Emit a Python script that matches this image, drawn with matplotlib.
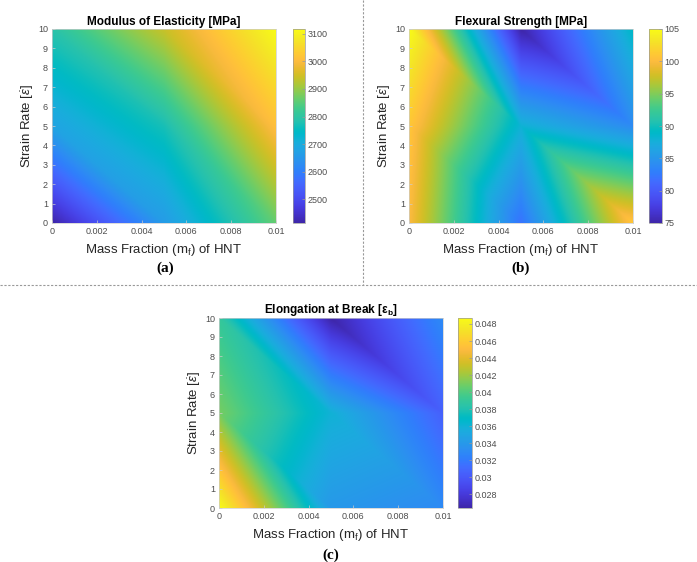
import numpy as np
import matplotlib
matplotlib.use('Agg')
import matplotlib.pyplot as plt
import matplotlib.tri as mtri
from matplotlib.colors import LinearSegmentedColormap
from matplotlib.lines import Line2D

plt.rcParams['font.family'] = ['Liberation Sans', 'DejaVu Sans']
plt.rcParams['mathtext.fontset'] = 'custom'
plt.rcParams['mathtext.rm'] = 'Liberation Sans'
plt.rcParams['mathtext.it'] = 'Liberation Sans:italic'
plt.rcParams['mathtext.bf'] = 'Liberation Sans:bold'

# grid of the measurements
mass_fraction = [0.0, 0.005, 0.01]
strain_rate = [0, 5, 10]

# values, one row per strain rate (0, 5, 10), columns = mass fraction
modulus = [[2413, 2660, 2860],
           [2680, 2770, 3010],
           [2790, 2940, 3118]]
flexural = [[100, 82, 101],
            [101, 88, 84],
            [105, 75, 89]]
elongation = [[0.0487, 0.0340, 0.0330],
              [0.0410, 0.0360, 0.0305],
              [0.0390, 0.0264, 0.0330]]

titles = ['Modulus of Elasticity [MPa]', 'Flexural Strength [MPa]',
          r'Elongation at Break [ε$_\mathbf{b}$]']
panel_tags = ['(a)', '(b)', '(c)']
xticks = [0, 0.002, 0.004, 0.006, 0.008, 0.01]
xtick_labels = ['0', '0.002', '0.004', '0.006', '0.008', '0.01']
yticks = list(range(0, 11))
cbar_ticks = [[2500, 2600, 2700, 2800, 2900, 3000, 3100],
              [75, 80, 85, 90, 95, 100, 105],
              [0.028, 0.03, 0.032, 0.034, 0.036, 0.038, 0.04, 0.042, 0.044, 0.046, 0.048]]
cbar_labels = [[str(t) for t in cbar_ticks[0]],
               [str(t) for t in cbar_ticks[1]],
               ['0.028', '0.03', '0.032', '0.034', '0.036', '0.038', '0.04', '0.042', '0.044', '0.046', '0.048']]
clims = [(2413, 3118), (75, 105), (0.0264, 0.0487)]

parula_rgb = [
    [0.2422, 0.1504, 0.6603], [0.2504, 0.1650, 0.7076], [0.2578, 0.1818, 0.7511], [0.2647, 0.1978, 0.7952],
    [0.2706, 0.2147, 0.8364], [0.2751, 0.2342, 0.8710], [0.2783, 0.2559, 0.8991], [0.2803, 0.2782, 0.9221],
    [0.2813, 0.3006, 0.9414], [0.2810, 0.3228, 0.9579], [0.2795, 0.3447, 0.9717], [0.2760, 0.3667, 0.9829],
    [0.2699, 0.3892, 0.9906], [0.2602, 0.4123, 0.9952], [0.2440, 0.4358, 0.9988], [0.2206, 0.4603, 0.9973],
    [0.1963, 0.4847, 0.9892], [0.1834, 0.5074, 0.9798], [0.1786, 0.5289, 0.9682], [0.1764, 0.5499, 0.9520],
    [0.1687, 0.5703, 0.9359], [0.1540, 0.5902, 0.9218], [0.1460, 0.6091, 0.9079], [0.1380, 0.6276, 0.8973],
    [0.1248, 0.6459, 0.8883], [0.1113, 0.6635, 0.8763], [0.0952, 0.6798, 0.8598], [0.0689, 0.6948, 0.8394],
    [0.0297, 0.7082, 0.8163], [0.0036, 0.7203, 0.7917], [0.0067, 0.7312, 0.7660], [0.0433, 0.7411, 0.7394],
    [0.0964, 0.7500, 0.7120], [0.1408, 0.7584, 0.6842], [0.1717, 0.7670, 0.6554], [0.1938, 0.7758, 0.6251],
    [0.2161, 0.7843, 0.5923], [0.2470, 0.7918, 0.5567], [0.2906, 0.7973, 0.5188], [0.3406, 0.8008, 0.4789],
    [0.3909, 0.8029, 0.4354], [0.4456, 0.8024, 0.3909], [0.5044, 0.7993, 0.3480], [0.5616, 0.7942, 0.3045],
    [0.6174, 0.7876, 0.2612], [0.6720, 0.7793, 0.2227], [0.7242, 0.7698, 0.1910], [0.7738, 0.7598, 0.1646],
    [0.8203, 0.7498, 0.1535], [0.8634, 0.7406, 0.1596], [0.9035, 0.7330, 0.1774], [0.9393, 0.7288, 0.2100],
    [0.9728, 0.7298, 0.2394], [0.9956, 0.7434, 0.2371], [0.9970, 0.7659, 0.2199], [0.9952, 0.7893, 0.2028],
    [0.9892, 0.8136, 0.1885], [0.9786, 0.8386, 0.1766], [0.9676, 0.8639, 0.1643], [0.9610, 0.8890, 0.1537],
    [0.9597, 0.9135, 0.1423], [0.9628, 0.9373, 0.1265], [0.9691, 0.9606, 0.1064], [0.9769, 0.9839, 0.0805]]
parula = LinearSegmentedColormap.from_list('parula', parula_rgb, N=512)

# triangulation of the 3x3 grid, each cell split along its top-left / bottom-right diagonal
X, Y = np.meshgrid(mass_fraction, strain_rate)
nx = len(mass_fraction)
tris = []
for j in range(len(strain_rate) - 1):
    for i in range(nx - 1):
        bl = j * nx + i
        br = bl + 1
        tl = bl + nx
        tr = tl + 1
        tris.append([bl, br, tl])
        tris.append([br, tr, tl])
tri = mtri.Triangulation(X.ravel(), Y.ravel(), tris)

# fine grid for linear interpolation of the values inside each triangle
xf = np.linspace(mass_fraction[0], mass_fraction[-1], 400)
yf = np.linspace(strain_rate[0], strain_rate[-1], 400)
XF, YF = np.meshgrid(xf, yf)

W, H = 697, 562
fig = plt.figure(figsize=(W / 100, H / 100), dpi=100)


def fig_rect(x0, y0, x1, y1):
    return [x0 / W, 1 - y1 / H, (x1 - x0) / W, (y1 - y0) / H]


ax_boxes = [(52, 29, 276, 223), (409, 29, 633, 223), (219, 318, 443, 508)]
cb_boxes = [(293, 29, 305, 223), (649, 29, 662, 223), (458, 318, 472, 508)]
tag_pos = [(165, 268), (521, 268), (331, 555)]
grey = '#4d4d4d'

for k, z in enumerate([modulus, flexural, elongation]):
    ax = fig.add_axes(fig_rect(*ax_boxes[k]))
    interp = mtri.LinearTriInterpolator(tri, np.asarray(z, dtype=float).ravel())
    ZF = interp(XF, YF)
    im = ax.imshow(ZF, origin='lower', aspect='auto', interpolation='bilinear',
                   extent=[xf[0], xf[-1], yf[0], yf[-1]],
                   cmap=parula, vmin=clims[k][0], vmax=clims[k][1])
    ax.set_xlim(0, 0.01)
    ax.set_ylim(0, 10)
    ax.set_xticks(xticks)
    ax.set_xticklabels(xtick_labels)
    ax.set_yticks(yticks)
    ax.tick_params(direction='in', length=2, width=0.5, labelsize=6.5,
                   colors='#cccccc', labelcolor=grey, pad=3)
    for s in ax.spines.values():
        s.set_color('#cccccc')
        s.set_linewidth(0.5)
    ax.set_title(titles[k], fontsize=8.5, fontweight='bold', pad=3)
    ax.set_xlabel(r'Mass Fraction (m$_\mathregular{f}$) of HNT', fontsize=9.5, color='#262626', labelpad=4)
    ax.set_ylabel(r'Strain Rate [$\dot{\epsilon}$]', fontsize=9.5, color='#262626')
    ax.yaxis.set_label_coords(-0.07, 0.5)

    cax = fig.add_axes(fig_rect(*cb_boxes[k]))
    cb = fig.colorbar(im, cax=cax)
    cb.set_ticks(cbar_ticks[k])
    cb.set_ticklabels(cbar_labels[k])
    cb.outline.set_linewidth(0.5)
    cb.outline.set_edgecolor('#999999')
    cax.tick_params(direction='in', length=2, width=0.5, labelsize=6.5,
                    colors='#999999', labelcolor=grey, pad=2)

    fig.text(tag_pos[k][0] / W, 1 - tag_pos[k][1] / H, panel_tags[k],
             family='Liberation Serif', fontweight='bold', fontsize=11,
             ha='center', va='center')

# dashed separators between panels
fig.add_artist(Line2D([0, 1], [1 - 285 / H, 1 - 285 / H], transform=fig.transFigure,
                      ls=(0, (2, 1.5)), color='#999999', lw=0.8))
fig.add_artist(Line2D([363 / W, 363 / W], [1, 1 - 285 / H], transform=fig.transFigure,
                      ls=(0, (2, 1.5)), color='#999999', lw=0.8))

fig.savefig('out.png', dpi=100, facecolor='white')
